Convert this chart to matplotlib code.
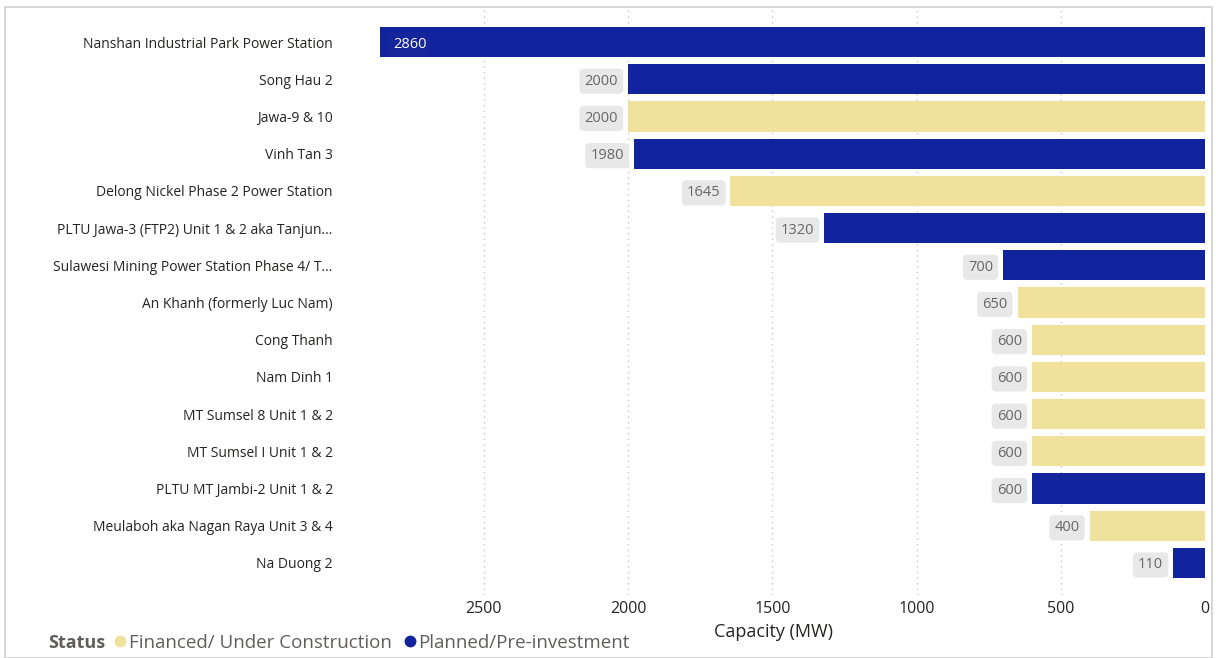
import matplotlib
matplotlib.use("Agg")
import matplotlib.pyplot as plt
from matplotlib.patches import Rectangle
from matplotlib.lines import Line2D

plt.rcParams['font.family'] = ['Open Sans', 'DejaVu Sans']

plants = [
    "Nanshan Industrial Park Power Station",
    "Song Hau 2",
    "Jawa-9 & 10",
    "Vinh Tan 3",
    "Delong Nickel Phase 2 Power Station",
    "PLTU Jawa-3 (FTP2) Unit 1 & 2 aka Tanjun...",
    "Sulawesi Mining Power Station Phase 4/ T...",
    "An Khanh (formerly Luc Nam)",
    "Cong Thanh",
    "Nam Dinh 1",
    "MT Sumsel 8 Unit 1 & 2",
    "MT Sumsel I Unit 1 & 2",
    "PLTU MT Jambi-2 Unit 1 & 2",
    "Meulaboh aka Nagan Raya Unit 3 & 4",
    "Na Duong 2",
]
capacity = [2860, 2000, 2000, 1980, 1645, 1320, 700, 650, 600, 600, 600, 600, 600, 400, 110]
status = ["P", "P", "F", "P", "F", "P", "P", "F", "F", "F", "F", "F", "P", "F", "P"]
xticks = [2500, 2000, 1500, 1000, 500, 0]

NAVY = "#12239E"
BEIGE = "#F0E19C"
colors = {"P": NAVY, "F": BEIGE}
status_names = {"F": "Financed/ Under Construction", "P": "Planned/Pre-investment"}

fig = plt.figure(figsize=(12.16, 6.58), dpi=100)
fig.patches.append(Rectangle((5/1216, 0), 1207/1216, 651/658, transform=fig.transFigure,
                             fill=False, edgecolor="#D0D0D0", linewidth=1.2))
ax = fig.add_axes([380/1216, 1 - 595/658, 825/1216, 585/658])

ypos = list(range(len(plants)))
ax.barh(ypos, capacity, height=0.81, color=[colors[s] for s in status], zorder=2)
ax.set_xlim(2860, 0)
ax.set_ylim(len(plants) - 1 + 0.86, -0.86)
ax.set_yticks(ypos)
ax.set_yticklabels(plants, fontsize=10, color="#252423")
ax.set_xticks(xticks)
ax.set_xticklabels([str(t) for t in xticks], fontsize=11.5, color="#252423")
ax.tick_params(axis="both", length=0)
ax.tick_params(axis="y", pad=34)
ax.tick_params(axis="x", pad=4)
for s in ax.spines.values():
    s.set_visible(False)
ax.grid(axis="x", color="#C8C8C8", linestyle=(0, (1, 3)), linewidth=1, zorder=0)
ax.set_xlabel("Capacity (MW)", fontsize=13, color="#252423")
ax.xaxis.set_label_coords((773 - 380) / 825, -(632 - 595) / 585)
ax.xaxis.label.set_verticalalignment("center")

for i, (v, s) in enumerate(zip(capacity, status)):
    if i == 0:
        ax.annotate(str(v), xy=(v, i), xytext=(13, -2), textcoords="offset pixels",
                    ha="left", va="center", fontsize=10.5, color="white", zorder=4,
                    bbox=dict(boxstyle="round,pad=0.3,rounding_size=0.2", fc="#15259A", ec="none"))
    else:
        ax.annotate(str(v), xy=(v, i), xytext=(-10, -2), textcoords="offset pixels",
                    ha="right", va="center", fontsize=10.5, color="#666666", zorder=4,
                    bbox=dict(boxstyle="round,pad=0.35,rounding_size=0.3", fc="#E8E8E8", ec="none"))

# legend
fig.text(48/1216, 1 - 643/658, "Status", fontsize=13, fontweight="bold", color="#605E5C",
         ha="left", va="center")
handles = [Line2D([], [], marker="o", linestyle="none", markersize=7.5, color=colors[k],
                  label=status_names[k]) for k in ["F", "P"]]
fig.legend(handles=handles, loc="center left", bbox_to_anchor=(112/1216, 1 - 643/658),
           ncol=2, frameon=False, fontsize=13.5, handletextpad=0.0, columnspacing=0.5,
           handlelength=0.9, labelcolor="#605E5C", borderpad=0, borderaxespad=0)

fig.savefig("out.png", dpi=100)
